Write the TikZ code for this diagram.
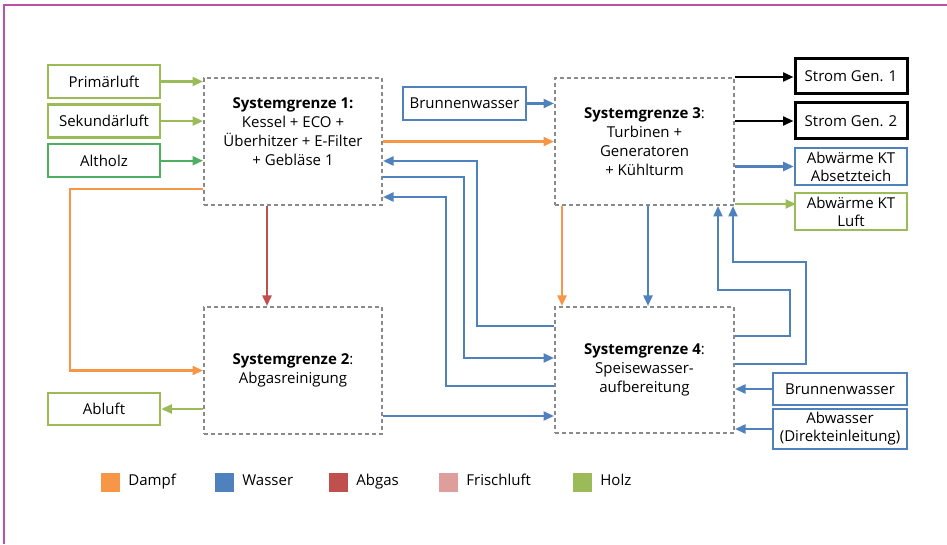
\documentclass[tikz,border=0pt]{standalone}
\usepackage{fontspec}
\setmainfont{Open Sans}
\usetikzlibrary{arrows.meta,positioning,calc}
\definecolor{Dampf}{HTML}{F79646}
\definecolor{Wasser}{HTML}{4F81BD}
\definecolor{Abgas}{HTML}{C0504D}
\definecolor{Frisch}{HTML}{DE9E9C}
\definecolor{Holz}{HTML}{9BBB59}
\definecolor{Altholz}{HTML}{4FAE62}
\definecolor{Grenze}{HTML}{8A8A8A}
\definecolor{Rahmen}{HTML}{B9539F}

\begin{document}
\begin{tikzpicture}[x=1pt,y=1pt,>={Triangle[length=10.5pt,width=9pt]},font=\fontsize{15}{19}\selectfont,
  io/.style={draw=#1,line width=2.6pt,minimum width=112pt,minimum height=33pt,inner sep=1pt,align=center},
  grenze/.style={draw=Grenze,line width=2pt,dash pattern=on 4pt off 3pt,minimum width=178pt,minimum height=127pt,align=center},
  flow/.style={draw=#1,line width=2.2pt,->},
  leg/.style={minimum size=19pt,inner sep=0pt}]
\useasboundingbox (0,0) rectangle (947,544);
\draw[Rahmen,line width=1.6pt] (4,0) -- (4,539) -- (947,539);
% Systemgrenzen
\node[grenze](sg1) at (293,402.5){\textbf{Systemgrenze 1:}\\Kessel + ECO +\\Überhitzer + E-Filter\\+ Gebläse 1\\\mbox{}};
\node[grenze](sg2) at (293,173.5){\textbf{Systemgrenze 2}:\\Abgasreinigung};
\node[grenze,minimum width=179pt](sg3) at (644.5,402.5){\textbf{Systemgrenze 3}:\\Turbinen +\\Generatoren\\+ Kühlturm};
\node[grenze,minimum width=179pt,minimum height=126pt](sg4) at (644.5,174){\textbf{Systemgrenze 4}:\\Speisewasser-\\aufbereitung};
% Ein- und Ausgaenge
\node[io=Holz](prim) at (104,462.5){Primärluft};
\node[io=Holz,below=4pt of prim](sek){Sekundärluft};
\node[io=Altholz,below=4pt of sek](altholz){Altholz};
\node[io=Holz,minimum height=32pt](abluft) at (104,135){Abluft};
\node[io=Wasser,minimum width=123pt](brunA) at (464.5,440.5){Brunnenwasser};
\node[io=black,line width=3pt,minimum height=35pt](strom1) at (851,467.5){Strom Gen. 1};
\node[io=black,line width=3pt,minimum height=36pt](strom2) at (851,423){Strom Gen. 2};
\node[io=Wasser,minimum height=37pt](abwAbs) at (851,377.5){Abwärme KT\\[-1pt]Absetzteich};
\node[io=Holz,minimum height=37pt](abwLuft) at (851,332.5){Abwärme KT\\[-1pt]Luft};
\node[io=Wasser,minimum width=134pt,minimum height=32pt](brunB) at (840,155){Brunnenwasser};
\node[io=Wasser,minimum width=134pt,minimum height=40pt](abwasser) at (840,115){Abwasser\\[-1pt](Direkteinleitung)};
% Stroeme
\foreach \n/\c in {prim/Holz,sek/Holz,altholz/Altholz}{\draw[flow=\c](\n.east)--(\n.east -| sg1.west);}
\draw[flow=Dampf]($(sg1.south west)+(0,17)$)--++(-133,0)|-(sg2.west);
\draw[flow=Abgas]($(sg1.south)+(-26,0)$)--($(sg2.north)+(-26,0)$);
\draw[flow=Holz](abluft -| sg2.west)--(abluft.east);
\draw[flow=Wasser]($(sg2.east)+(0,-45.5)$)--($(sg4.west)+(0,-46)$);
\draw[flow=Dampf](sg1.east)--(sg3.west);
\draw[flow=Wasser](brunA.east)--(brunA.east -| sg3.west);
\draw[flow=Wasser]($(sg4.west)+(0,44)$)--++(-77,0)|-($(sg1.east)+(0,-19.5)$);
\draw[flow=Wasser]($(sg1.east)+(0,-35.5)$)--++(81,0)|-($(sg4.west)+(0,12)$);
\draw[flow=Wasser]($(sg4.west)+(0,-16)$)--++(-108,0)|-($(sg1.east)+(0,-55.5)$);
\draw[flow=Dampf]($(sg3.south west)+(8,0)$)--($(sg4.north west)+(8,0)$);
\draw[flow=Wasser]($(sg3.south)+(3.5,0)$)--($(sg4.north)+(3.5,0)$);
\draw[flow=black](sg3.north east)--(sg3.north east -| strom1.west);
\draw[flow=black](strom2 -| sg3.east)--(strom2.west);
\draw[flow=Wasser](abwAbs -| sg3.east)--(abwAbs.west);
\draw[flow=Holz]($(sg3.south east)+(0,2)$)--++(61,0);
\draw[flow=Wasser]($(sg4.east)+(0,34)$)--++(55,0)--++(0,46)-|($(sg3.south east)+(-17,0)$);
\draw[flow=Wasser]($(sg4.east)+(0,6)$)--++(71,0)--++(0,102)-|($(sg3.south east)+(-2,0)$);
\draw[flow=Wasser](brunB.west)--(brunB -| sg4.east);
\draw[flow=Wasser](abwasser.west)--(abwasser -| sg4.east);
% Legende
\foreach \c/\t/\x in {Dampf/Dampf/110.5,Wasser/Wasser/224.5,Abgas/Abgas/338.5,Frisch/Frischluft/448.5,Holz/Holz/582.5}{
  \node[leg,fill=\c](l\t) at (\x,62){};
  \node[right=8pt of l\t,inner sep=0pt,text height=11pt,text depth=3.5pt](t\t){\t};}
\end{tikzpicture}
\end{document}
